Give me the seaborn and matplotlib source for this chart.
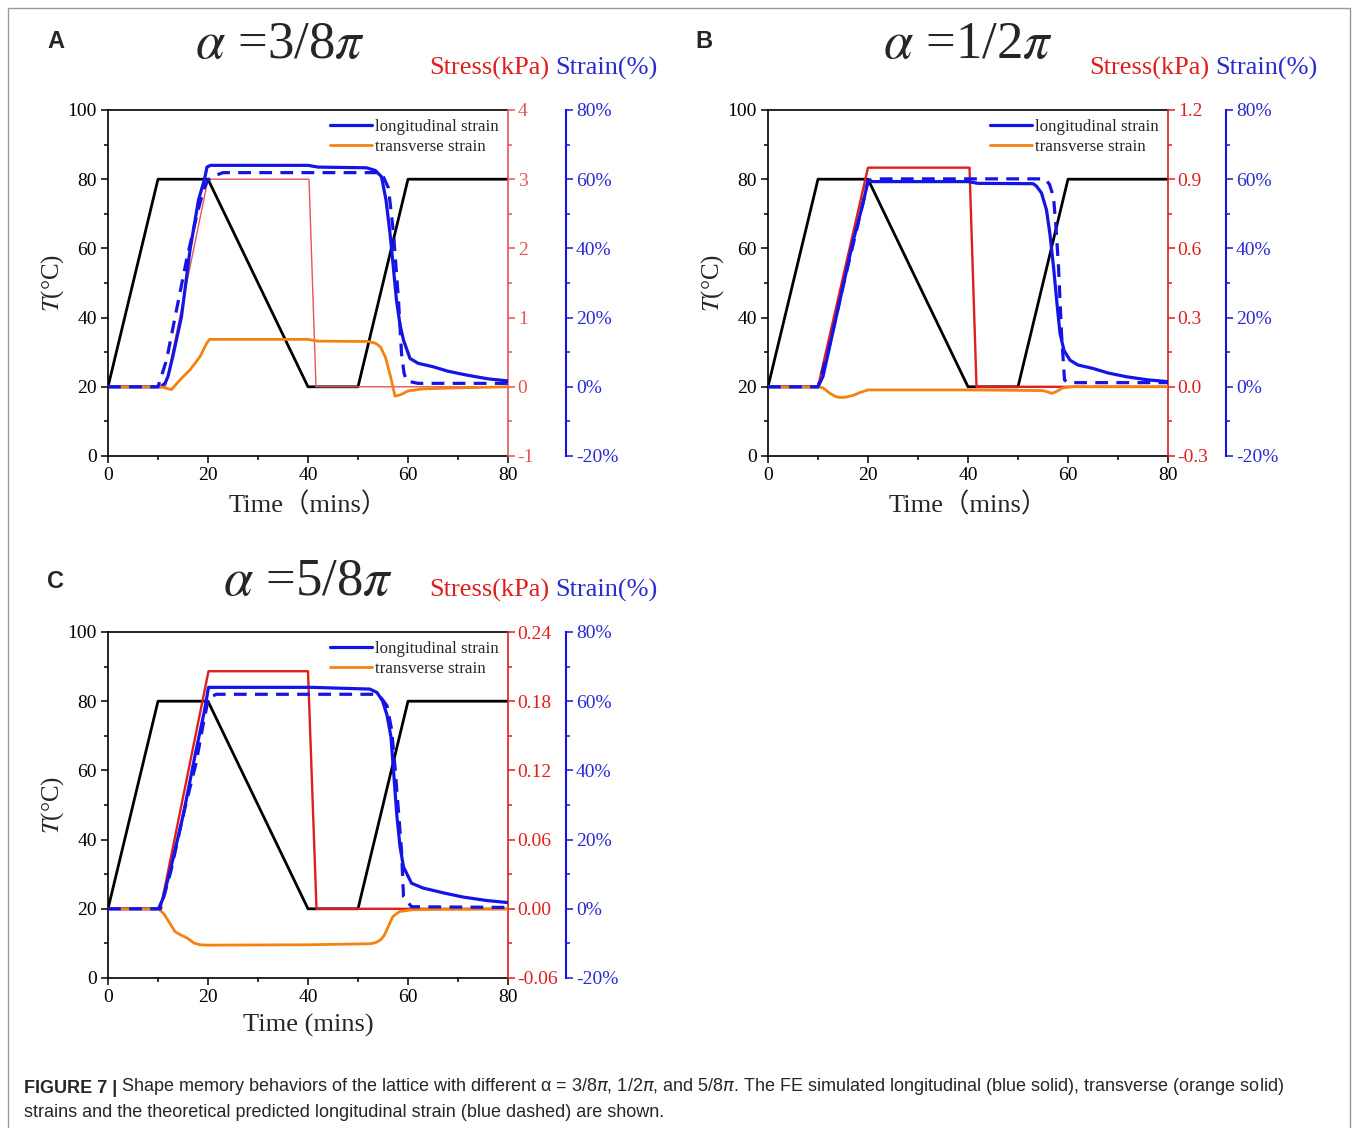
import matplotlib
matplotlib.use("Agg")
import matplotlib.pyplot as plt
import seaborn as sns
from matplotlib.ticker import MultipleLocator
from matplotlib.patches import Rectangle

# ---------------------------------------------------------------
# data
# ---------------------------------------------------------------
# temperature program (same in all panels), left axis T(°C)
temp_time = [0, 10, 20, 40, 50, 60, 80]
temp_vals = [20, 80, 80, 20, 20, 80, 80]

# panel A  (alpha = 3/8 pi)
stress_time_a = [0, 11.5, 20, 40.2, 41.6, 80]
stress_a = [0, 0, 3.0, 3.0, 0, 0]
long_time_a = [0, 10.5, 11.4, 12.0, 13.0, 14.7, 16.4, 18.1, 19.3, 19.8, 20.5, 40, 42, 51.7, 53.5,
               54.7, 55.6, 56.4, 57.1, 57.7, 58.4, 59.1, 60.4, 62, 65, 68, 71.7, 76, 80]
long_a = [0, 0, 1.0, 3.0, 9.0, 20.3, 39.5, 54, 60, 63.5, 64, 64, 63.5, 63.3, 62.5,
          60.7, 54, 44.4, 34, 25, 18, 13.5, 8.2, 6.8, 5.8, 4.5, 3.4, 2.3, 1.7]
theo_time_a = [0, 10, 11.7, 13.7, 15.7, 17.7, 19.1, 20, 21.7, 23, 54.7, 56.1, 57.1, 58.1,
               58.7, 59.2, 59.7, 62, 80]
theo_a = [0, 0, 7.7, 22.2, 36.6, 49.2, 57, 59.8, 61.2, 61.9, 61.9, 57.4, 44.4, 25,
          9.7, 4, 1.7, 1.0, 1.0]
trans_time_a = [0, 10.5, 12.7, 14.4, 16.4, 18.4, 19.7, 20.3, 40, 42, 52, 53.5, 54.5, 55.5,
                56.5, 57.4, 58.5, 60, 63, 70, 80]
trans_a = [0, 0, -0.8, 2, 4.9, 8.7, 12.5, 13.7, 13.7, 13.2, 13.1, 12.6, 11.5, 8.5,
           3, -2.7, -2.3, -1.2, -0.6, -0.3, 0]

# panel B  (alpha = 1/2 pi)
stress_time_b = [0, 10, 20, 40.3, 41.7, 80]
stress_b = [0, 0, 0.95, 0.95, 0, 0]
long_time_b = [0, 10, 11, 13, 15, 17, 19, 20, 21, 40, 42, 53, 53.7, 54.7, 55.7, 56.4, 57.1,
               57.8, 58.4, 59.2, 60.4, 62, 65, 68, 71.7, 76, 80]
long_b = [0, 0, 3, 16, 29, 42, 53, 59.5, 59.3, 59.3, 58.8, 58.7, 58, 56, 51.1, 44, 34.7,
          24, 15.5, 10.5, 7.7, 6.3, 5.3, 4, 2.9, 2, 1.5]
theo_time_b = [0, 10, 12, 15, 18, 20, 21, 55.4, 56.3, 57.1, 57.6, 58.1, 58.7, 59.3, 60, 80]
theo_b = [0, 0, 10, 29, 47, 59.5, 60.1, 60.1, 58.5, 54.9, 46, 34.7, 15.5, 2, 1.2, 1.2]
trans_time_b = [0, 10, 11, 12.3, 13.5, 14.4, 15.5, 17, 18.5, 20, 40, 55, 56, 56.7, 57.5,
                59, 61, 80]
trans_b = [0, 0, -0.3, -1.8, -2.8, -3.1, -3.0, -2.5, -1.6, -0.9, -0.9, -1.1, -1.5, -1.9,
           -1.5, -0.3, 0, 0]

# panel C  (alpha = 5/8 pi)
stress_time_c = [0, 10.5, 20.1, 40, 41.7, 80]
stress_c = [0, 0, 0.206, 0.206, 0, 0]
long_time_c = [0, 10.1, 11, 12.6, 15.1, 17.6, 19.3, 20.1, 40.8, 52.4, 53.8, 54.9, 55.8, 56.6,
               57.2, 57.8, 58.4, 59.1, 60.7, 63, 67.4, 71, 75.7, 80]
long_c = [0, 0, 3, 12, 27.5, 45.7, 57.3, 64, 64, 63.5, 62.5, 60.1, 56, 49.6,
          38, 26.5, 18, 12.1, 7.4, 6, 4.5, 3.4, 2.4, 1.8]
theo_time_c = [0, 10.5, 12.6, 15.1, 17.6, 19, 20.1, 21.7, 53.3, 54.6, 55.8, 56.7, 57.4, 58.1,
               58.7, 59.1, 60.7, 80]
theo_c = [0, 0, 11, 27.5, 42, 53, 61, 62, 62, 61, 58.7, 52, 41, 28, 17, 3.5, 0.6, 0.4]
trans_time_c = [0, 10.1, 11.2, 12.3, 13.4, 14.6, 15.9, 17.2, 18.4, 20, 40, 52.4, 53.5, 54.5,
                55.2, 55.8, 56.4, 57, 58.3, 60.7, 65, 80]
trans_c = [0, 0, -1.5, -4, -6.6, -7.6, -8.5, -9.9, -10.4, -10.5, -10.4, -10.1, -9.8, -9,
           -7.8, -6, -4, -2.2, -0.8, -0.3, -0.2, -0.1]

# axis ticks
time_ticks = [0, 20, 40, 60, 80]
temp_ticks = [0, 20, 40, 60, 80, 100]
strain_ticks = [-20, 0, 20, 40, 60, 80]
strain_labels = ["-20%", "0%", "20%", "40%", "60%", "80%"]
stress_ticks_a = [-1, 0, 1, 2, 3, 4]
stress_labels_a = ["-1", "0", "1", "2", "3", "4"]
stress_ticks_b = [-0.3, 0.0, 0.3, 0.6, 0.9, 1.2]
stress_labels_b = ["-0.3", "0.0", "0.3", "0.6", "0.9", "1.2"]
stress_ticks_c = [-0.06, 0.0, 0.06, 0.12, 0.18, 0.24]
stress_labels_c = ["-0.06", "0.00", "0.06", "0.12", "0.18", "0.24"]

# ---------------------------------------------------------------
# style
# ---------------------------------------------------------------
sns.set_theme(style="ticks")
plt.rcParams["font.family"] = ["Liberation Serif", "Noto Sans CJK SC"]
plt.rcParams["axes.unicode_minus"] = False

BLUE = "#1414e6"
ORANGE = "#f5820f"
RED = "#e01e1e"
TXT_BLUE = "#2a2ad0"
W, H = 1354, 1128


def fx(x):
    return x / W


def fy(y):
    return 1 - y / H


fig = plt.figure(figsize=(13.54, 11.28), dpi=100)
fig.patch.set_facecolor("white")
fig.add_artist(Rectangle((fx(8), fy(1140)), fx(1342), 1132 / H, transform=fig.transFigure,
                         fill=False, edgecolor="#9a9a9a", lw=1.0))


def panel(left, top, letter, title, title_xy, hdr_x, hdr_y, st_t, st_v, st_ticks, st_labels,
          st_minor, red_col, red_lw, lt, lv, tt, tv, trt, trv, xlabel):
    ax = fig.add_axes([fx(left), fy(top + 346), fx(400), 346 / H])
    ax_r = ax.twinx()
    ax_b = ax.twinx()

    sns.lineplot(x=temp_time, y=temp_vals, ax=ax, color="black", lw=2.0,
                 estimator=None, sort=False)
    sns.lineplot(x=st_t, y=st_v, ax=ax_r, color=red_col, lw=red_lw,
                 estimator=None, sort=False)
    sns.lineplot(x=lt, y=lv, ax=ax_b, color=BLUE, lw=2.3, estimator=None, sort=False,
                 label="longitudinal strain")
    sns.lineplot(x=trt, y=trv, ax=ax_b, color=ORANGE, lw=2.0, estimator=None, sort=False,
                 label="transverse strain")
    sns.lineplot(x=tt, y=tv, ax=ax_b, color=BLUE, lw=2.3, estimator=None, sort=False,
                 linestyle=(0, (4, 2.6)))

    # left / bottom axes
    ax.set_xlim(0, 80)
    ax.set_ylim(0, 100)
    ax.set_xticks(time_ticks)
    ax.set_yticks(temp_ticks)
    ax.xaxis.set_minor_locator(MultipleLocator(10))
    ax.yaxis.set_minor_locator(MultipleLocator(10))
    ax.tick_params(which="both", direction="out", colors="black", labelsize=14, width=1.1,
                   top=False, right=False, pad=3)
    ax.tick_params(which="major", length=5)
    ax.tick_params(which="minor", length=3)
    for s in ["left", "bottom", "top"]:
        ax.spines[s].set_color("black")
        ax.spines[s].set_linewidth(1.2)
    ax.spines["right"].set_visible(False)
    ax.set_xlabel(xlabel, fontsize=19)
    ax.xaxis.set_label_coords(0.5, -0.105)
    ax.set_ylabel(r"$T$(°C)", fontsize=18, math_fontfamily="stix")
    ax.yaxis.set_label_coords(-0.105, 0.5)

    # stress axis (red)
    ax_r.set_ylim(st_ticks[0], st_ticks[-1])
    ax_r.set_yticks(st_ticks)
    ax_r.set_yticklabels(st_labels)
    ax_r.yaxis.set_minor_locator(MultipleLocator(st_minor))
    ax_r.tick_params(which="both", direction="out", colors=red_col, labelsize=14,
                     width=1.1, pad=2)
    ax_r.tick_params(which="major", length=5)
    ax_r.tick_params(which="minor", length=3)
    for s in ["left", "bottom", "top"]:
        ax_r.spines[s].set_visible(False)
    ax_r.spines["right"].set_color(red_col)
    ax_r.spines["right"].set_linewidth(1.2)
    ax_r.set_ylabel("")

    # strain axis (blue), pushed out
    ax_b.spines["right"].set_position(("outward", 41.8))
    ax_b.set_ylim(-20, 80)
    ax_b.set_yticks(strain_ticks)
    ax_b.set_yticklabels(strain_labels)
    ax_b.yaxis.set_minor_locator(MultipleLocator(10))
    ax_b.tick_params(which="both", direction="out", colors=TXT_BLUE, labelsize=14,
                     width=1.2, pad=2)
    ax_b.tick_params(which="major", length=5)
    ax_b.tick_params(which="minor", length=3)
    for s in ["left", "bottom", "top"]:
        ax_b.spines[s].set_visible(False)
    ax_b.spines["right"].set_color(BLUE)
    ax_b.spines["right"].set_linewidth(1.5)
    ax_b.set_ylabel("")
    ax_b.legend(loc="upper right", frameon=False, fontsize=12.2, handlelength=2.5,
                handletextpad=0.15, labelspacing=0.2, borderaxespad=0.15,
                bbox_to_anchor=(1.0, 1.0))

    # headers
    fig.text(fx(letter[1]), fy(letter[2]), letter[0], fontsize=17, fontweight="bold",
             family="Liberation Sans", ha="center", va="center")
    fig.text(fx(title_xy[0]), fy(title_xy[1]), title, fontsize=38, ha="center", va="center",
             math_fontfamily="stix")
    fig.text(fx(hdr_x), fy(hdr_y), "Stress(kPa)", color=RED, fontsize=19,
             ha="right", va="center")
    fig.text(fx(hdr_x + 6), fy(hdr_y), "Strain(%)", color=TXT_BLUE, fontsize=19,
             ha="left", va="center")
    return ax


panel(108, 110, ("A", 56, 42), r"$\alpha$ =3/8$\pi$", (280, 45), 549, 68,
      stress_time_a, stress_a, stress_ticks_a, stress_labels_a, 0.5, "#e85555", 1.0,
      long_time_a, long_a, theo_time_a, theo_a, trans_time_a, trans_a, "Time（mins）")
panel(768, 110, ("B", 704, 42), r"$\alpha$ =1/2$\pi$", (968, 45), 1209, 68,
      stress_time_b, stress_b, stress_ticks_b, stress_labels_b, 0.15, RED, 1.7,
      long_time_b, long_b, theo_time_b, theo_b, trans_time_b, trans_b, "Time（mins）")
panel(108, 632, ("C", 55, 582), r"$\alpha$ =5/8$\pi$", (308, 582), 549, 590,
      stress_time_c, stress_c, stress_ticks_c, stress_labels_c, 0.03, RED, 1.7,
      long_time_c, long_c, theo_time_c, theo_c, trans_time_c, trans_c, "Time (mins)")

# caption
bold = fig.text(fx(24), fy(1097), "FIGURE 7 |", fontsize=13, fontweight="bold",
                family="Liberation Sans", ha="left", va="bottom")
cap1 = (r"Shape memory behaviors of the lattice with different α = 3/8$\pi$, 1/2$\pi$, and "
        r"5/8$\pi$. The FE simulated longitudinal (blue solid), transverse (orange solid)")
plt.annotate(cap1, xy=(1, 0), xycoords=bold, xytext=(3, 0), textcoords="offset points",
             fontsize=13, family="Liberation Sans", ha="left", va="bottom",
             math_fontfamily="dejavusans", annotation_clip=False)
fig.text(fx(24), fy(1121), "strains and the theoretical predicted longitudinal strain "
         "(blue dashed) are shown.", fontsize=13, family="Liberation Sans",
         ha="left", va="bottom")

fig.savefig("out.png", dpi=100, facecolor="white")
